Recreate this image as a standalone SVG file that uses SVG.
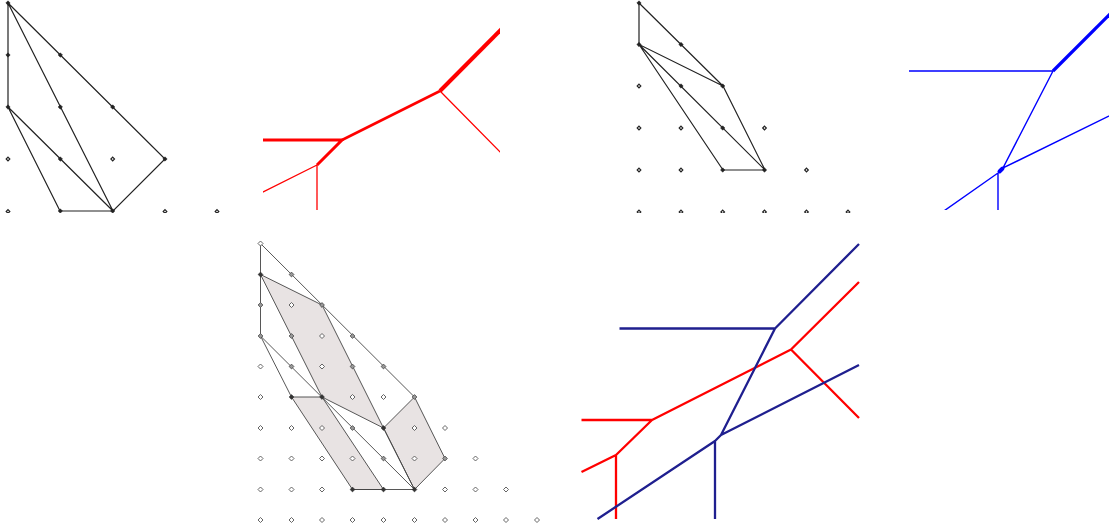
<svg xmlns="http://www.w3.org/2000/svg" width="1109" height="529" viewBox="0 0 1109 529">
<style>
.k{fill:none;stroke:#222;stroke-width:1.2}
.g{fill:none;stroke:#444;stroke-width:.9}
.s{fill:#e8e3e3;stroke:#444;stroke-width:.9}
.r{fill:none;stroke:#f00}
.b{fill:none;stroke:#00f}
.n{fill:none;stroke:#1f1f8f;stroke-width:2.300;stroke-linejoin:round}
.m{fill:none;stroke:#f00;stroke-width:2.300;stroke-linejoin:round}
</style>
<defs>
<polygon id="o" points="0,-1.800 1.800,0 0,1.800 -1.800,0" fill="#fff" stroke="#222" stroke-width="1.200"/>
<polygon id="f" points="0,-2.200 2.200,0 0,2.200 -2.200,0" fill="#222" stroke="#222" stroke-width=".5"/>
<polygon id="q" points="0,-2.500 2.500,0 0,2.500 -2.500,0" fill="#fff" stroke="#555" stroke-width=".9"/>
<polygon id="p" points="0,-2.400 2.400,0 0,2.400 -2.400,0" fill="#999" stroke="#444" stroke-width=".8"/>
<polygon id="d" points="0,-2.400 2.400,0 0,2.400 -2.400,0" fill="#333" stroke="#333" stroke-width=".6"/>
<clipPath id="c1"><rect x="0" y="0" width="230" height="213"/></clipPath>
<clipPath id="c2"><rect x="630" y="0" width="230" height="213"/></clipPath>
<clipPath id="c3"><rect x="263" y="20" width="237" height="190"/></clipPath>
<clipPath id="c4"><rect x="909" y="0" width="200" height="210"/></clipPath>
<clipPath id="c5"><rect x="581.500" y="240" width="277.500" height="279"/></clipPath>
</defs>

<g id="polygon-a" clip-path="url(#c1)">
<path class="k" d="M8 3V107M8 3L165 159L113 211H60L8 107L113 211L8 3"/>
<use href="#f" x="8" y="3"/><use href="#f" x="8" y="55"/><use href="#f" x="60.300" y="55"/>
<use href="#f" x="8" y="107"/><use href="#f" x="60.300" y="107"/><use href="#f" x="112.700" y="107"/>
<use href="#o" x="8" y="159"/><use href="#f" x="60.300" y="159"/><use href="#o" x="112.700" y="159"/><use href="#f" x="165" y="159"/>
<use href="#o" x="8" y="211.500"/><use href="#f" x="60.300" y="211"/><use href="#f" x="112.700" y="211"/><use href="#o" x="165" y="211.500"/><use href="#o" x="217" y="211.500"/>
</g>

<g id="curve-a" clip-path="url(#c3)">
<path class="r" stroke-width="3" d="M260 140H342L317 165"/>
<path class="r" stroke-width="2.600" d="M342 140L440 91"/>
<path class="r" stroke-width="4" d="M440 91L505 25.500"/>
<path class="r" stroke-width="1.300" d="M505 157L440 91M317 165L260 193.500M317 165V215"/>
</g>

<g id="polygon-b" clip-path="url(#c2)">
<path class="k" d="M639 3V44.500L723 86L639 3M723 86L765 170H723L639 44.500L765 170"/>
<use href="#f" x="639" y="3"/><use href="#f" x="639" y="44.500"/><use href="#f" x="681" y="44.500"/>
<use href="#o" x="639" y="86"/><use href="#f" x="681" y="86"/><use href="#f" x="722.700" y="86"/>
<use href="#o" x="639" y="128"/><use href="#o" x="681" y="128"/><use href="#f" x="722.700" y="128"/><use href="#o" x="764.500" y="128"/>
<use href="#o" x="639" y="170"/><use href="#o" x="681" y="170"/><use href="#f" x="722.700" y="170"/><use href="#f" x="764.500" y="170"/><use href="#o" x="806.500" y="170"/>
<use href="#o" x="639" y="212"/><use href="#o" x="681" y="212"/><use href="#o" x="722.700" y="212"/><use href="#o" x="764.500" y="212"/><use href="#o" x="806.500" y="212"/><use href="#o" x="848" y="212"/>
</g>

<g id="curve-b" clip-path="url(#c4)">
<path class="b" stroke-width="1.400" d="M905 71H1053L1003 168L1115 113M998 173L941 213M998 173V215"/>
<path class="b" stroke-width="3.200" d="M1053 71L1115 9"/>
<path class="b" stroke-width="4" stroke-linecap="round" d="M1002.500 168.500L999.500 171.500"/>
</g>

<g id="polygon-c">
<path class="s" d="M260.500 274.500L322 305L383.500 428L322 397Z"/>
<path class="s" d="M291.500 397H322L383.500 489.500H352.500Z"/>
<path class="s" d="M414.500 397L445 458.500L414.500 489.500L383.500 428Z"/>
<path class="g" d="M260.500 243.500V336M260.500 243.500L414.500 397M260.500 336L414.500 489.500M260.500 336L291.500 397M352.500 489.500H414.500L383.500 428"/>
<use href="#q" x="260.500" y="243.500"/>
<use href="#d" x="260.500" y="274.500"/><use href="#p" x="291.500" y="274.500"/>
<use href="#p" x="260.500" y="305"/><use href="#q" x="291.500" y="305"/><use href="#p" x="322" y="305"/>
<use href="#p" x="260.500" y="336"/><use href="#p" x="291.500" y="336"/><use href="#q" x="322" y="336"/><use href="#p" x="352.500" y="336"/>
<use href="#q" x="260.500" y="366.500"/><use href="#p" x="291.500" y="366.500"/><use href="#q" x="322" y="366.500"/><use href="#p" x="352.500" y="366.500"/><use href="#p" x="383.500" y="366.500"/>
<use href="#q" x="260.500" y="397"/><use href="#d" x="291.500" y="397"/><use href="#d" x="322" y="397"/><use href="#q" x="352.500" y="397"/><use href="#q" x="383.500" y="397"/><use href="#p" x="414.500" y="397"/>
<use href="#q" x="260.500" y="428"/><use href="#q" x="291.500" y="428"/><use href="#q" x="322" y="428"/><use href="#p" x="352.500" y="428"/><use href="#d" x="383.500" y="428"/><use href="#q" x="414.500" y="428"/><use href="#q" x="445" y="428"/>
<use href="#q" x="260.500" y="458.500"/><use href="#q" x="291.500" y="458.500"/><use href="#q" x="322" y="458.500"/><use href="#q" x="352.500" y="458.500"/><use href="#p" x="383.500" y="458.500"/><use href="#q" x="414.500" y="458.500"/><use href="#p" x="445" y="458.500"/><use href="#q" x="475.500" y="458.500"/>
<use href="#q" x="260.500" y="489.500"/><use href="#q" x="291.500" y="489.500"/><use href="#q" x="322" y="489.500"/><use href="#d" x="352.500" y="489.500"/><use href="#d" x="383.500" y="489.500"/><use href="#d" x="414.500" y="489.500"/><use href="#q" x="445" y="489.500"/><use href="#q" x="475.500" y="489.500"/><use href="#q" x="506" y="489.500"/>
<use href="#q" x="260.500" y="520"/><use href="#q" x="291.500" y="520"/><use href="#q" x="322" y="520"/><use href="#q" x="352.500" y="520"/><use href="#q" x="383.500" y="520"/><use href="#q" x="414.500" y="520"/><use href="#q" x="445" y="520"/><use href="#q" x="475.500" y="520"/><use href="#q" x="506" y="520"/><use href="#q" x="537" y="520"/>
</g>

<g id="curve-c">
<path class="m" d="M581.500 420H652L616 455L581.500 472M616 455V519M652 420L791 349.500L859 282M791 349.500L859 418"/>
<path class="n" d="M619.500 328.500H775L859 244M775 328.500L721 435L859 365M721 435L715 441L597.500 519M715 441V519"/>
</g>
</svg>
